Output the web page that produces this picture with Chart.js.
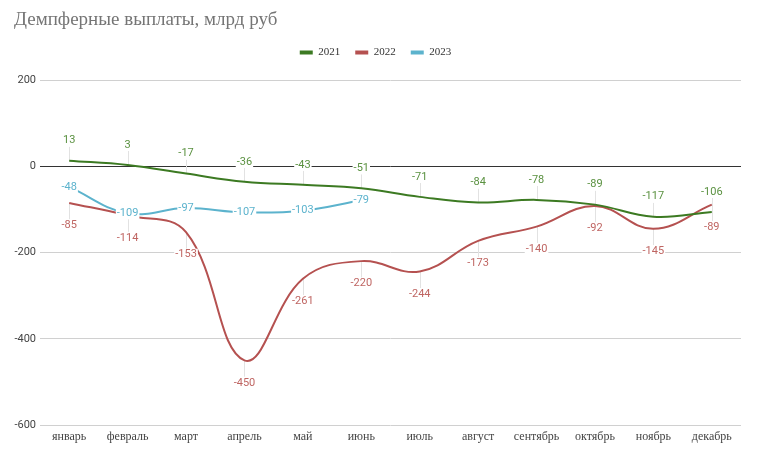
<!DOCTYPE html>
<html>
<head>
<meta charset="utf-8">
<script src="https://cdn.jsdelivr.net/npm/chart.js@4/dist/chart.umd.min.js"></script>
<style>
  html, body { margin: 0; padding: 0; background: #fff; }
  #wrap { width: 758px; height: 457px; }
</style>
</head>
<body>
<div id="wrap"><canvas id="chart"></canvas></div>
<script>
// Data
const chartTitle = 'Демпферные выплаты, млрд руб';
const months = ['январь', 'февраль', 'март', 'апрель', 'май', 'июнь', 'июль', 'август', 'сентябрь', 'октябрь', 'ноябрь', 'декабрь'];
const values2021 = [13, 3, -17, -36, -43, -51, -71, -84, -78, -89, -117, -106];
const values2022 = [-85, -114, -153, -450, -261, -220, -244, -173, -140, -92, -145, -89];
const values2023 = [-48, -109, -97, -107, -103, -79];
const yMin = -600, yMax = 200, yStep = 200;

// title drawn by hand so it can sit left of the y axis
const titlePlugin = {
    id: 'leftTitle',
    afterDraw(chart) {
        const ctx = chart.ctx;
        ctx.save();
        ctx.font = '19px "Liberation Serif", serif';
        ctx.fillStyle = '#757575';
        ctx.textBaseline = 'middle';
        ctx.fillText(chartTitle, 14, 20);
        ctx.restore();
    }
};

// extra room between legend and plot
const legendSpacer = {
    id: 'legendSpacer',
    beforeInit(chart) {
        const fit = chart.legend.fit;
        chart.legend.fit = function () {
            fit.call(this);
            this.height += 12;
        };
    }
};

// value labels (white box behind) and thin grey leader lines
const valueLabels = {
    id: 'valueLabels',
    beforeDatasetsDraw(chart) {
        const ctx = chart.ctx;
        ctx.save();
        ctx.strokeStyle = '#e2e2e2';
        ctx.lineWidth = 1;
        chart.data.datasets.forEach((ds, i) => {
            if (!ds.labelOffset) return;
            chart.getDatasetMeta(i).data.forEach((pt, j) => {
                if (ds.data[j] == null) return;
                const x = Math.round(pt.x) + 0.5;
                const ly = pt.y + ds.labelOffset + (ds.labelOffset < 0 ? 6 : -6);
                ctx.beginPath();
                ctx.moveTo(x, ly);
                ctx.lineTo(x, pt.y);
                ctx.stroke();
            });
        });
        ctx.restore();
    },
    afterDatasetsDraw(chart) {
        const ctx = chart.ctx;
        ctx.save();
        ctx.font = '11px Roboto';
        ctx.textAlign = 'center';
        ctx.textBaseline = 'middle';
        chart.data.datasets.forEach((ds, i) => {
            chart.getDatasetMeta(i).data.forEach((pt, j) => {
                const v = ds.data[j];
                if (v == null) return;
                const text = String(v);
                const w = ctx.measureText(text).width;
                const y = pt.y + ds.labelOffset;
                ctx.fillStyle = '#fff';
                ctx.fillRect(pt.x - w / 2 - 1, y - 6, w + 2, 12);
                ctx.fillStyle = ds.labelColor;
                ctx.fillText(text, pt.x, y);
            });
        });
        ctx.restore();
    }
};

new Chart(document.getElementById('chart'), {
    type: 'line',
    data: {
        labels: months,
        datasets: [
            {
                label: '2021',
                data: values2021,
                borderColor: '#3c7a22',
                backgroundColor: '#3c7a22',
                labelColor: '#5a9140',
                labelOffset: -20
            },
            {
                label: '2022',
                data: values2022,
                borderColor: '#b55150',
                backgroundColor: '#b55150',
                labelColor: '#bf6562',
                labelOffset: 22.5
            },
            {
                label: '2023',
                data: values2023,
                borderColor: '#5cb3cd',
                backgroundColor: '#5cb3cd',
                labelColor: '#5cb3cd',
                labelOffset: 0
            }
        ]
    },
    options: {
        responsive: true,
        maintainAspectRatio: false,
        animation: false,
        layout: { padding: { left: 10, right: 17, top: 32, bottom: 0 } },
        elements: {
            line: { borderWidth: 2, tension: 0.4, fill: false },
            point: { radius: 0, hoverRadius: 0 }
        },
        plugins: {
            title: { display: false },
            legend: {
                position: 'top',
                align: 'center',
                labels: {
                    color: '#333',
                    boxWidth: 13,
                    boxHeight: 4,
                    padding: 15,
                    font: { family: '"Liberation Serif", serif', size: 11 },
                    generateLabels(chart) {
                        return chart.data.datasets.map((ds, i) => ({
                            text: ds.label,
                            fillStyle: ds.borderColor,
                            strokeStyle: ds.borderColor,
                            lineWidth: 0,
                            fontColor: '#333',
                            datasetIndex: i
                        }));
                    }
                }
            },
            tooltip: { enabled: false }
        },
        scales: {
            x: {
                offset: true,
                grid: { display: false, drawTicks: false },
                border: { display: false },
                ticks: {
                    color: '#444',
                    padding: 5,
                    maxRotation: 0,
                    autoSkip: false,
                    font: { family: '"Liberation Serif", serif', size: 12 }
                },
                afterFit(scale) { scale.height = 32; }
            },
            y: {
                min: yMin,
                max: yMax,
                border: { display: false },
                grid: {
                    drawTicks: false,
                    color: ctx => ctx.tick && ctx.tick.value === 0 ? '#333' : '#d0d0d0'
                },
                ticks: {
                    stepSize: yStep,
                    color: '#444',
                    padding: 4,
                    font: { family: 'Roboto', size: 11 }
                },
                afterFit(scale) { scale.width = 30; }
            }
        }
    },
    plugins: [legendSpacer, valueLabels, titlePlugin]
});
</script>
</body>
</html>
